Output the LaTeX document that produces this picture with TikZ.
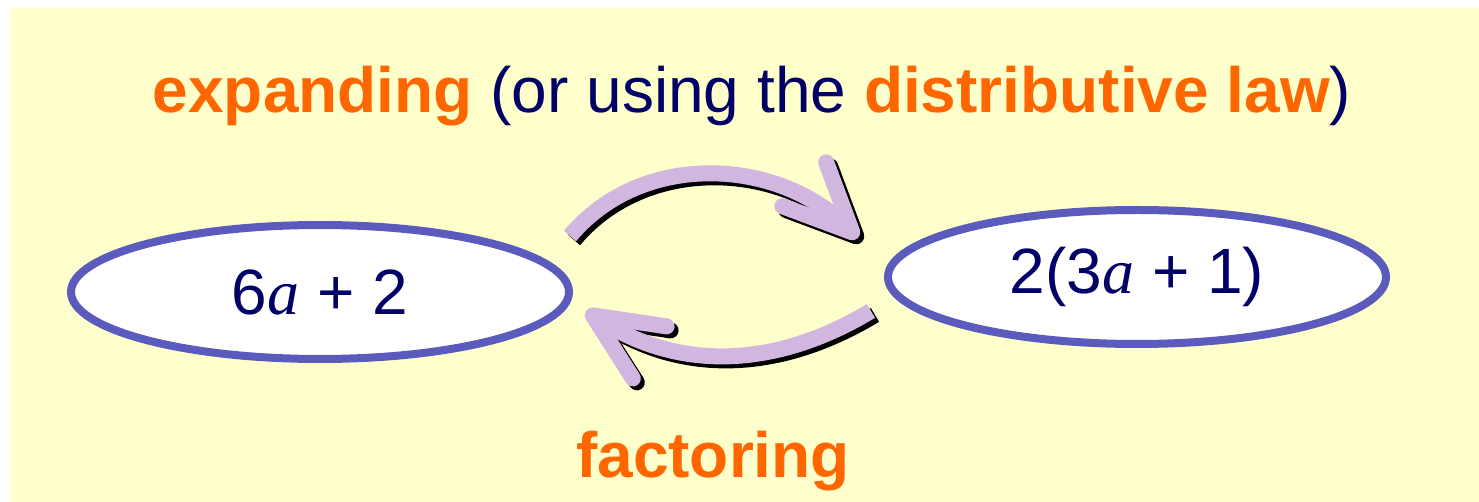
\documentclass[tikz,border=0pt]{standalone}
\usepackage{fontspec}
\setmainfont{Liberation Sans}
\newfontfamily\timesfont{Liberation Serif}
\usetikzlibrary{arrows.meta, shapes.geometric}

\definecolor{paper}{RGB}{255,255,204}
\definecolor{hot}{RGB}{255,102,0}
\definecolor{ink}{RGB}{0,0,102}
\definecolor{rim}{RGB}{91,91,190}
\definecolor{lilac}{RGB}{209,182,224}

\newcommand{\va}{{\timesfont\itshape a}}

\begin{document}
\begin{tikzpicture}[x=0.5pt, y=-0.5pt,
    term/.style={draw=rim, fill=white, ellipse, line width=4pt, minimum width=249pt,
      minimum height=67pt, inner sep=0pt, text=ink, font=\fontsize{32}{38}\selectfont},
    word/.style={text=hot, font=\fontsize{32}{38}\selectfont\bfseries, anchor=base},
    flow/.style={line width=8pt, draw=lilac,
      -{Straight Barb[length=34pt, width=31pt, line width=8pt, round]}},
    flow shadow/.style={flow, draw=black, transform canvas={shift={(2pt,-2pt)}}}]
    \useasboundingbox (0,0) rectangle (1479,502);
    \fill[paper] (10,8) rectangle (1479,502);

    \node[term] (sum)     at (320,292)  {6\va{} + 2};
    \node[term] (product) at (1137,277) {2(3\va{} + 1)};

    \node[word] (expand label) at (752,113)
        {expanding {\mdseries\color{ink}(or using the} distributive law{\mdseries\color{ink})}};
    \node[word] (factor label) at (713,477) {factoring};

    \coordinate (expand from) at (570,236);
    \coordinate (expand to)   at (858,238);
    \coordinate (factor from) at (871,311);
    \coordinate (factor to)   at (586,311);

    % shadow first, then the arrow on top
    \foreach \look in {flow shadow, flow} {
        \draw[\look] (expand from) to[out=50, in=135]  (expand to);
        \draw[\look] (factor from) to[out=-149, in=-33] (factor to);
    }
\end{tikzpicture}
\end{document}
